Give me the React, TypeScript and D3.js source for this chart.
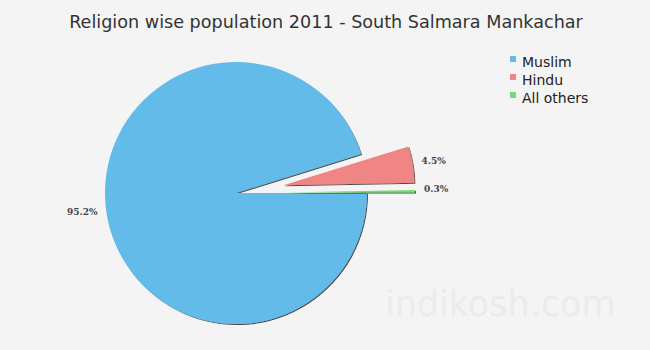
import React from "react";
import * as d3 from "d3";

const categories = ["Muslim", "Hindu", "All others"];
const values = [95.2, 4.5, 0.3];
const labels = ["95.2%", "4.5%", "0.3%"];
const colors = ["#63bbea", "#f08585", "#77d97b"];
const explode = [0, 48, 48];

export default function App() {
  const W = 650, H = 350;
  const cx = 236, cy = 193, r = 131;
  const pie = d3.pie<number>().sort(null).startAngle(Math.PI / 2).endAngle(Math.PI / 2 + 2 * Math.PI);
  const arcs = pie(values);
  const arc = d3.arc<d3.PieArcDatum<number>>().innerRadius(0).outerRadius(r);
  return (
    <svg width={W} height={H} style={{ display: "block", position: "absolute", left: 0, top: 0 }}>
      <defs>
        <filter id="sh" x="-20%" y="-20%" width="140%" height="140%">
          <feDropShadow dx="1" dy="1" stdDeviation="0.6" floodColor="#000" floodOpacity="0.7" />
        </filter>
      </defs>
      <rect width={W} height={H} fill="#f4f4f4" />
      <text x={385} y={316} fontFamily="DejaVu Sans, Verdana, sans-serif" fontSize={35} fill="#ebebeb">indikosh.com</text>
      <text x={326} y={28} textAnchor="middle" fontFamily="DejaVu Sans, Verdana, sans-serif" fontSize={17.6} fill="#333">
        Religion wise population 2011 - South Salmara Mankachar
      </text>
      {arcs.map((a, i) => {
        const mid = (a.startAngle + a.endAngle) / 2;
        const dx = Math.sin(mid), dy = -Math.cos(mid);
        const ox = dx * explode[i], oy = dy * explode[i];
        const lr = r + explode[i] + 9;
        const lx = cx + dx * lr, ly = cy + dy * lr;
        return (
          <g key={i}>
            <path d={arc(a) || ""} transform={`translate(${cx + ox},${cy + oy})`} fill={colors[i]} filter="url(#sh)" />
            <text x={lx} y={ly + 1} textAnchor={dx < 0 ? "end" : "start"} fontFamily="DejaVu Serif, serif" fontWeight="bold" fontSize={9} fill="#444">
              {labels[i]}
            </text>
          </g>
        );
      })}
      {categories.map((c, i) => (
        <g key={c} transform={`translate(510,${61 + i * 18})`}>
          <rect x={0} y={-5} width={6} height={6} fill={colors[i]} />
          <text x={12} y={2} fontFamily="DejaVu Sans, Verdana, sans-serif" fontSize={14} fill="#222" dominantBaseline="middle">{c}</text>
        </g>
      ))}
    </svg>
  );
}
